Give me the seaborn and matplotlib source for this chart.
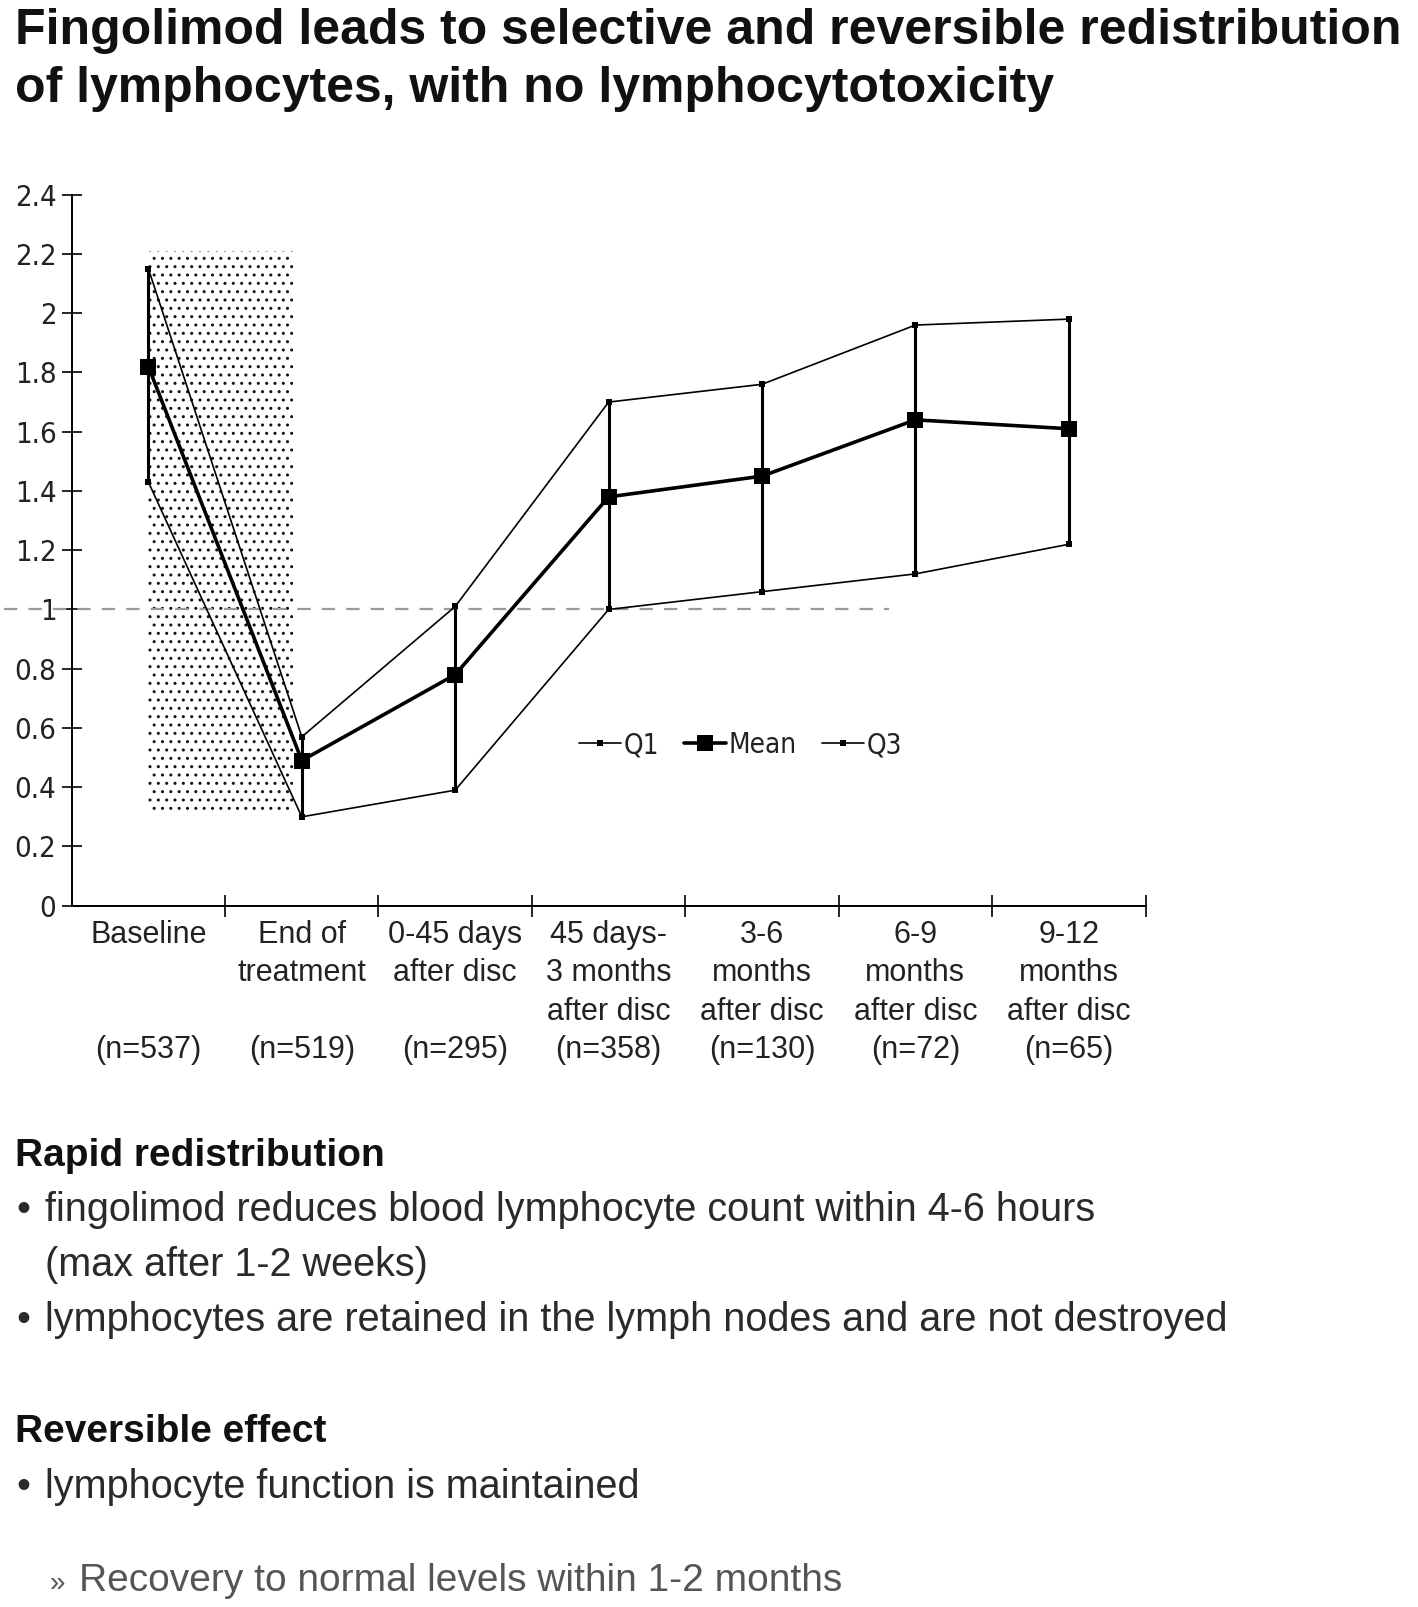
import numpy as np
import pandas as pd
import matplotlib
matplotlib.use("Agg")
import matplotlib.pyplot as plt
from matplotlib import font_manager
from matplotlib.patches import Rectangle
from matplotlib.ticker import FuncFormatter, FixedLocator
import seaborn as sns

# data
categories = ["Baseline", "End of\ntreatment", "0-45 days\nafter disc",
              "45 days-\n3 months\nafter disc", "3-6\nmonths\nafter disc",
              "6-9\nmonths\nafter disc", "9-12\nmonths\nafter disc"]
n_values = [537, 519, 295, 358, 130, 72, 65]
q1 = [1.43, 0.30, 0.39, 1.00, 1.06, 1.12, 1.22]
mean = [1.82, 0.49, 0.78, 1.38, 1.45, 1.64, 1.61]
q3 = [2.15, 0.57, 1.01, 1.70, 1.76, 1.96, 1.98]
treatment_band = (0.31, 2.21)   # stippled treatment period, y range
normal_level = 1.0

sns.set_theme(style="white")
plt.rcParams["font.family"] = ["Liberation Sans", "DejaVu Sans"]

names = {f.name for f in font_manager.fontManager.ttflist}
if "Liberation Sans Narrow" in names:
    narrow_family, narrow_stretch = "Liberation Sans Narrow", "normal"
else:
    narrow_family, narrow_stretch = "DejaVu Sans", "condensed"

W, H = 1418, 1607
fig = plt.figure(figsize=(W / 100, H / 100), dpi=100)
fx = lambda px: px / W
fy = lambda px: 1 - px / H

ax = fig.add_axes([fx(71.7), fy(905.7), fx(1145.5) - fx(71.7), fy(194.7) - fy(905.7)])

x = np.arange(len(categories))
df = pd.DataFrame({"x": np.tile(x, 3),
                   "value": q1 + mean + q3,
                   "series": ["Q1"] * 7 + ["Mean"] * 7 + ["Q3"] * 7})

# stippled treatment period
ax.add_patch(Rectangle((0, treatment_band[0]), 0.94, treatment_band[1] - treatment_band[0],
                       fill=False, hatch="..", edgecolor="#111111", linewidth=0, zorder=1))

# normal level reference line
ax.plot([-0.94, 4.83], [normal_level, normal_level], color="#9a9a9a", lw=1.6,
        dashes=(6, 5), clip_on=False, zorder=2)

ax.vlines(x, q1, q3, color="black", lw=2.2, zorder=3)

styles = {"Q1": dict(lw=1.2, ms=5), "Mean": dict(lw=2.6, ms=11), "Q3": dict(lw=1.2, ms=5)}
for s in ["Q1", "Mean", "Q3"]:
    sub = df[df.series == s]
    sns.lineplot(data=sub, x="x", y="value", ax=ax, color="black", marker="s",
                 linewidth=styles[s]["lw"], markersize=styles[s]["ms"],
                 markeredgewidth=0, label=s, zorder=4)

ax.set_xlim(-0.5, 6.5)
ax.set_ylim(0, 2.4)
ax.set_xlabel("")
ax.set_ylabel("")
sns.despine(ax=ax)
for sp in ["left", "bottom"]:
    ax.spines[sp].set_color("black")
    ax.spines[sp].set_linewidth(1.4)

ax.set_yticks(np.arange(0, 2.41, 0.2))
ax.yaxis.set_major_formatter(FuncFormatter(lambda v, p: "%g" % round(v, 1)))
ax.tick_params(axis="y", direction="inout", length=14, width=1.2, color="black",
               left=True, pad=4, labelsize=21, labelcolor="#222222")
for t in ax.get_yticklabels():
    t.set(family=narrow_family, fontstretch=narrow_stretch)

labels = []
for c, n in zip(categories, n_values):
    lines = c.split("\n")
    lines += [""] * (3 - len(lines))
    labels.append("\n".join(lines + ["(n=%d)" % n]))
ax.set_xticks(x)
ax.set_xticklabels(labels, fontsize=22, color="#222222", linespacing=1.37)
ax.tick_params(axis="x", which="major", length=0, pad=10, bottom=True)
ax.xaxis.set_minor_locator(FixedLocator(np.arange(0.5, 6.6, 1)))
ax.tick_params(axis="x", which="minor", direction="inout", length=16, width=1.2,
               color="black", bottom=True)

leg = ax.legend(loc="center", bbox_to_anchor=(0.623, 0.226), ncol=3, frameon=False,
                handlelength=1.5, columnspacing=0.9, handletextpad=0.1,
                prop=dict(size=20, family=narrow_family, stretch=narrow_stretch))
for t in leg.get_texts():
    t.set_color("#222222")

# title and notes
title_kw = dict(fontsize=36, fontweight="bold", color="#111111", va="baseline")
fig.text(fx(15), fy(44), "Fingolimod leads to selective and reversible redistribution", **title_kw)
fig.text(fx(15), fy(102), "of lymphocytes, with no lymphocytotoxicity", **title_kw)

head_kw = dict(fontsize=28, fontweight="bold", color="#111111", va="baseline")
body_kw = dict(fontsize=28.5, color="#2a2a2a", va="baseline")
fig.text(fx(15), fy(1166), "Rapid redistribution", **head_kw)
fig.text(fx(16), fy(1221), "\u2022", **body_kw)
fig.text(fx(45), fy(1221), "fingolimod reduces blood lymphocyte count within 4-6 hours", **body_kw)
fig.text(fx(45), fy(1276), "(max after 1-2 weeks)", **body_kw)
fig.text(fx(16), fy(1331), "\u2022", **body_kw)
fig.text(fx(45), fy(1331), "lymphocytes are retained in the lymph nodes and are not destroyed", **body_kw)
fig.text(fx(15), fy(1442), "Reversible effect", **head_kw)
fig.text(fx(16), fy(1498), "\u2022", **body_kw)
fig.text(fx(45), fy(1498), "lymphocyte function is maintained", **body_kw)
fig.text(fx(50), fy(1591), "\u00bb", fontsize=20, color="#555555", va="baseline")
fig.text(fx(79), fy(1591), "Recovery to normal levels within 1-2 months", fontsize=28,
         color="#555555", va="baseline")

fig.savefig("out.png", dpi=100)
